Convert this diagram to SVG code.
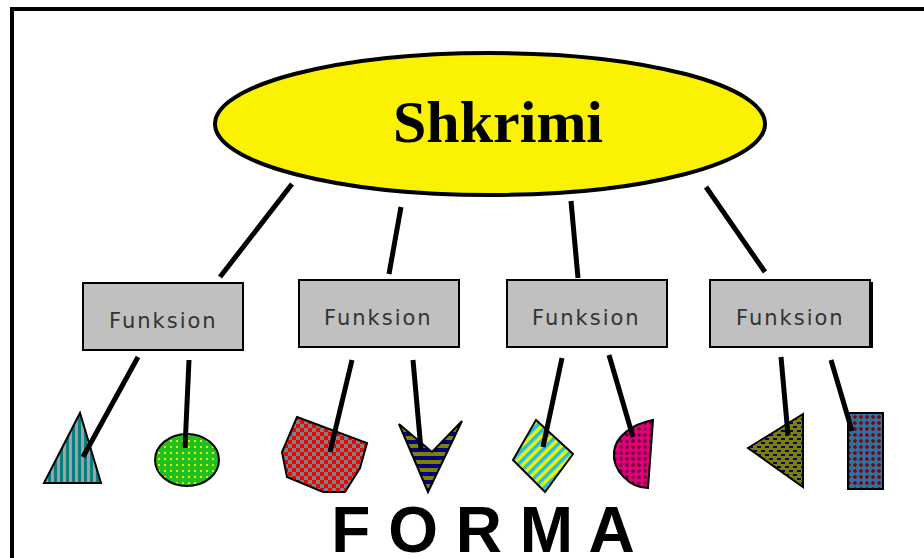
<svg xmlns="http://www.w3.org/2000/svg" width="924" height="558" viewBox="0 0 924 558">
<style>
.box{fill:#C0C0C0;stroke:#000;stroke-width:2}
.lbl{font-family:"DejaVu Sans",sans-serif;font-size:21px;fill:#333;letter-spacing:2px}
.shp{stroke:#000;stroke-width:2}
.con line{stroke:#000;stroke-width:5}
</style>
<defs>
<pattern id="pStripeV" width="6" height="6" patternUnits="userSpaceOnUse"><rect width="6" height="6" fill="#A0A0A0"/><rect width="3" height="6" fill="#008080"/></pattern>
<pattern id="pDots" width="6" height="6" patternUnits="userSpaceOnUse"><rect width="6" height="6" fill="#20C020"/><rect x="2" y="2" width="2" height="2" fill="#E0F000"/></pattern>
<pattern id="pCheck" width="8" height="8" patternUnits="userSpaceOnUse"><rect width="8" height="8" fill="#808080"/><rect width="4" height="4" fill="#F00000"/><rect x="4" y="4" width="4" height="4" fill="#F00000"/></pattern>
<pattern id="pStripeH" width="8" height="8" patternUnits="userSpaceOnUse"><rect width="8" height="8" fill="#808000"/><rect width="8" height="4" fill="#000080"/></pattern>
<pattern id="pDiag" width="7" height="7" patternUnits="userSpaceOnUse" patternTransform="rotate(45)"><rect width="7" height="7" fill="#F0F000"/><rect width="3.5" height="7" fill="#20C0E0"/></pattern>
<pattern id="pCross" width="6" height="6" patternUnits="userSpaceOnUse"><rect width="6" height="6" fill="#E0007A"/><path d="M3 1V5M1 3H5" stroke="#400020" stroke-width="1"/></pattern>
<pattern id="pDash" width="8" height="8" patternUnits="userSpaceOnUse"><rect width="8" height="8" fill="#808000"/><rect x="1" y="2" width="4" height="2" fill="#000080"/><rect x="5" y="6" width="3" height="2" fill="#000080"/><rect x="0" y="6" width="1" height="2" fill="#000080"/></pattern>
<pattern id="pCross2" width="6" height="6" patternUnits="userSpaceOnUse"><rect width="6" height="6" fill="#3070A0"/><path d="M3 1V5M1 3H5" stroke="#800000" stroke-width="1.5"/></pattern>
</defs>
<rect x="0" y="0" width="924" height="558" fill="#fff"/>
<rect x="12" y="9" width="950" height="600" fill="none" stroke="#000" stroke-width="4"/>

<g id="root">
<ellipse cx="490" cy="124" rx="275" ry="71" fill="#FAF200" stroke="#000" stroke-width="4"/>
<text x="498" y="142" text-anchor="middle" font-family="'Liberation Serif',serif" font-weight="bold" font-size="60">Shkrimi</text>
</g>

<g id="f1"><rect class="box" x="83" y="283" width="160" height="67"/><text class="lbl" x="109" y="328">Funksion</text></g>
<g id="f2"><rect class="box" x="299" y="280" width="160" height="67"/><text class="lbl" x="324" y="325">Funksion</text></g>
<g id="f3"><rect class="box" x="507" y="280" width="160" height="67"/><text class="lbl" x="532" y="325">Funksion</text></g>
<g id="f4"><rect class="box" x="710" y="280" width="160" height="67"/><line x1="872" y1="282" x2="872" y2="348" stroke="#000" stroke-width="2"/><text class="lbl" x="736" y="325">Funksion</text></g>

<g id="s1"><polygon class="shp" points="44,483 101,483 80,413" fill="url(#pStripeV)"/></g>
<g id="s2"><ellipse class="shp" cx="187" cy="460" rx="32" ry="26" fill="url(#pDots)"/></g>
<g id="s3"><polygon class="shp" points="297,417 367,443 360,468 345,492 323,492 287,477 282,452" fill="url(#pCheck)"/></g>
<g id="s4"><polygon class="shp" points="399,424 432,452 462,421 428,492" fill="url(#pStripeH)"/></g>
<g id="s5"><polygon class="shp" points="536,420 573,454 545,492 513,460" fill="url(#pDiag)"/></g>
<g id="s6"><path class="shp" d="M653,420 L648,488 C630,488 612,470 614,452 C615,437 632,424 653,420 Z" fill="url(#pCross)"/></g>
<g id="s7"><polygon class="shp" points="803,414 748,448 803,487" fill="url(#pDash)"/></g>
<g id="s8"><rect class="shp" x="848" y="413" width="35" height="76" fill="url(#pCross2)"/></g>

<g id="connectors" class="con">
<line x1="292" y1="184" x2="220" y2="277"/>
<line x1="401" y1="207" x2="389" y2="274"/>
<line x1="571" y1="201" x2="578" y2="278"/>
<line x1="706" y1="187" x2="765" y2="272"/>
<line x1="138" y1="357" x2="83" y2="457"/>
<line x1="189" y1="360" x2="185" y2="448"/>
<line x1="352" y1="360" x2="330" y2="452"/>
<line x1="413" y1="360" x2="421" y2="450"/>
<line x1="562" y1="358" x2="543" y2="447"/>
<line x1="609" y1="355" x2="633" y2="437"/>
<line x1="781" y1="357" x2="788" y2="435"/>
<line x1="831" y1="360" x2="852" y2="431"/>
</g>

<text x="483" y="552" text-anchor="middle" font-family="'Liberation Sans',Arial,sans-serif" font-weight="bold" font-size="64">F O R M A</text>
</svg>
